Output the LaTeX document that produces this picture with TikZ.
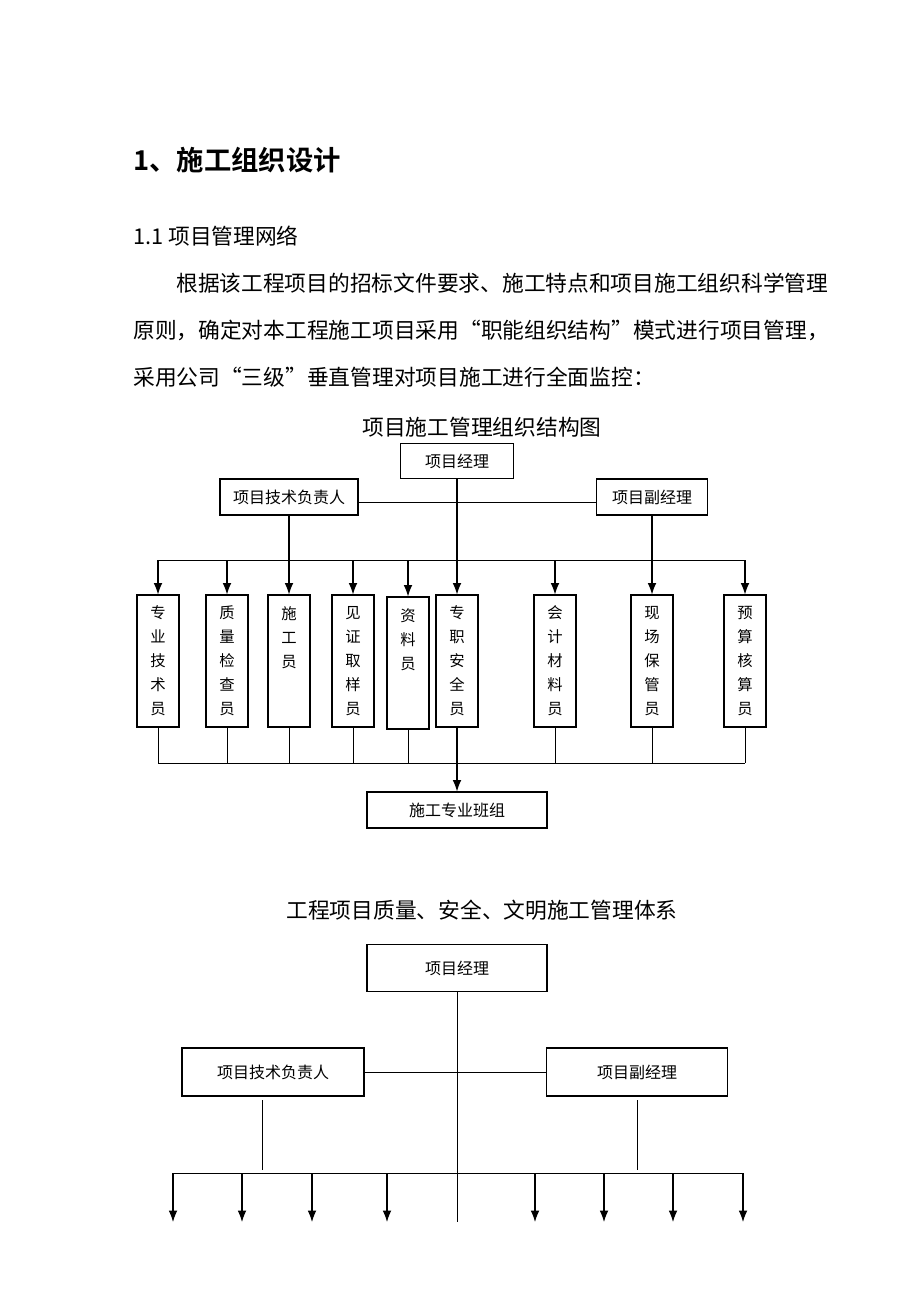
\documentclass[tikz,border=0pt]{standalone}
\usepackage{fontspec}
\setmainfont{Noto Sans CJK SC}[BoldFont={Noto Sans CJK SC Bold}]
\usetikzlibrary{arrows.meta}
\newcommand\bodyfont{\fontsize{16.3pt}{20pt}\selectfont}
\tikzset{
	box/.style 2 args={draw,line width=0.8pt,minimum width=#1,minimum height=#2,inner sep=0pt,font=\fontsize{12pt}{14pt}\selectfont},
	vbox/.style={draw,line width=0.8pt,minimum width=31.5pt,minimum height=99pt,inner sep=0pt,align=center,font=\fontsize{11.5pt}{18pt}\selectfont},
	txt/.style={anchor=west,inner sep=0pt,font=\bodyfont},
	wire/.style={line width=0.7pt},
	arr/.style={line width=0.8pt,-{Latex[length=8.5pt,width=6.5pt]}}
}

\begin{document}
\begin{tikzpicture}[x=0.75pt,y=-0.75pt]
						\fill [white] (0,0) rectangle (920,1302);
						\useasboundingbox (0,0) rectangle (920,1302);
						
						% page text
						\node [txt,font=\fontsize{20.5pt}{24pt}\selectfont\bfseries] (head) at (133,160) {1、施工组织设计};
						\node [txt] (sub) at (133,236) {1.1 项目管理网络};
						\node [txt] (par1) at (176,283) {根据该工程项目的招标文件要求、施工特点和项目施工组织科学管理};
						\node [txt] (par2) at (133,330) {原则，确定对本工程施工项目采用“职能组织结构”模式进行项目管理，};
						\node [txt] (par3) at (133,377) {采用公司“三级”垂直管理对项目施工进行全面监控：};
						
						% chart 1
						\node [inner sep=0pt,font=\bodyfont] (cap1) at (482,427) {项目施工管理组织结构图};
						\node [box={84.75pt}{26.25pt}] (pm) at (457,461) {项目经理};
						\node [box={103.5pt}{27pt}] (tech) at (289,497) {项目技术负责人};
						\node [box={83.25pt}{27pt}] (vice) at (652,497) {项目副经理};
						
						\node [vbox] (z1) at (158,661) {专\\业\\技\\术\\员};
						\node [vbox] (z2) at (227,661) {质\\量\\检\\查\\员};
						\node [vbox] (z3) at (289,661) {施\\工\\员\\~\\~};
						\node [vbox] (z4) at (353,661) {见\\证\\取\\样\\员};
						\node [vbox] (z5) at (408,663) {资\\料\\员\\~\\~};
						\node [vbox] (z6) at (457,661) {专\\职\\安\\全\\员};
						\node [vbox] (z7) at (555,661) {会\\计\\材\\料\\员};
						\node [vbox] (z8) at (652,661) {现\\场\\保\\管\\员};
						\node [vbox] (z9) at (745,661) {预\\算\\核\\算\\员};
						\node [box={135pt}{27pt}] (crew) at (457,810) {施工专业班组};
						
						\coordinate (busA) at (158,560);
						\coordinate (busB) at (745,560);
						\coordinate (botA) at (158,763);
						\coordinate (botB) at (745,763);
						
						\draw [wire] ([yshift=-3.75pt]tech.east) -- ([yshift=-3.75pt]vice.west);
						\draw [wire] (busA) -- (busB);
						\draw [arr] (pm.south) -- (z6.north);
						\draw [arr] (tech.south) -- (z3.north);
						\draw [arr] (vice.south) -- (z8.north);
						\draw [arr] (busA) -- (z1.north);
						\draw [arr] (busA -| z2.north) -- (z2.north);
						\draw [arr] (busA -| z4.north) -- (z4.north);
						\draw [arr] (busA -| z5.north) -- (z5.north);
						\draw [arr] (busA -| z7.north) -- (z7.north);
						\draw [arr] (busB) -- (z9.north);
						
						\draw [wire] (botA) -- (botB);
						\draw [wire] (z1.south) -- (botA);
						\draw [wire] (z2.south) -- (z2.south |- botA);
						\draw [wire] (z3.south) -- (z3.south |- botA);
						\draw [wire] (z4.south) -- (z4.south |- botA);
						\draw [wire] (z5.south) -- (z5.south |- botA);
						\draw [wire] (z7.south) -- (z7.south |- botA);
						\draw [wire] (z8.south) -- (z8.south |- botA);
						\draw [wire] (z9.south) -- (botB);
						\draw [arr] (z6.south) -- (crew.north);
						
						% chart 2
						\node [inner sep=0pt,font=\bodyfont] (cap2) at (482,910) {工程项目质量、安全、文明施工管理体系};
						\node [box={135pt}{35.25pt}] (pm2) at (457,968) {项目经理};
						\node [box={136.5pt}{36pt}] (tech2) at (273,1072) {项目技术负责人};
						\node [box={135.75pt}{36pt}] (vice2) at (637,1072) {项目副经理};
						
						\coordinate (qA) at (173,1173);
						\coordinate (qB) at (743,1173);
						\coordinate (pmEnd) at (457,1222);
						\coordinate (t2a) at (262,1100);
						\coordinate (t2b) at (262,1170);
						\coordinate (v2a) at (637,1100);
						\coordinate (v2b) at (637,1170);
						\coordinate (q1) at (173,1222);
						\coordinate (q2) at (242,1222);
						\coordinate (q3) at (312,1222);
						\coordinate (q4) at (387,1222);
						\coordinate (q5) at (535,1222);
						\coordinate (q6) at (604,1222);
						\coordinate (q7) at (673,1222);
						\coordinate (q8) at (743,1222);
						
						\draw [wire] (pm2.south) -- (pmEnd);
						\draw [wire] (tech2.east) -- (vice2.west);
						\draw [wire] (t2a) -- (t2b);
						\draw [wire] (v2a) -- (v2b);
						\draw [wire] (qA) -- (qB);
						\draw [arr] (qA) -- (q1);
						\draw [arr] (q2 |- qA) -- (q2);
						\draw [arr] (q3 |- qA) -- (q3);
						\draw [arr] (q4 |- qA) -- (q4);
						\draw [arr] (q5 |- qA) -- (q5);
						\draw [arr] (q6 |- qA) -- (q6);
						\draw [arr] (q7 |- qA) -- (q7);
						\draw [arr] (qB) -- (q8);
					\end{tikzpicture}
\end{document}
